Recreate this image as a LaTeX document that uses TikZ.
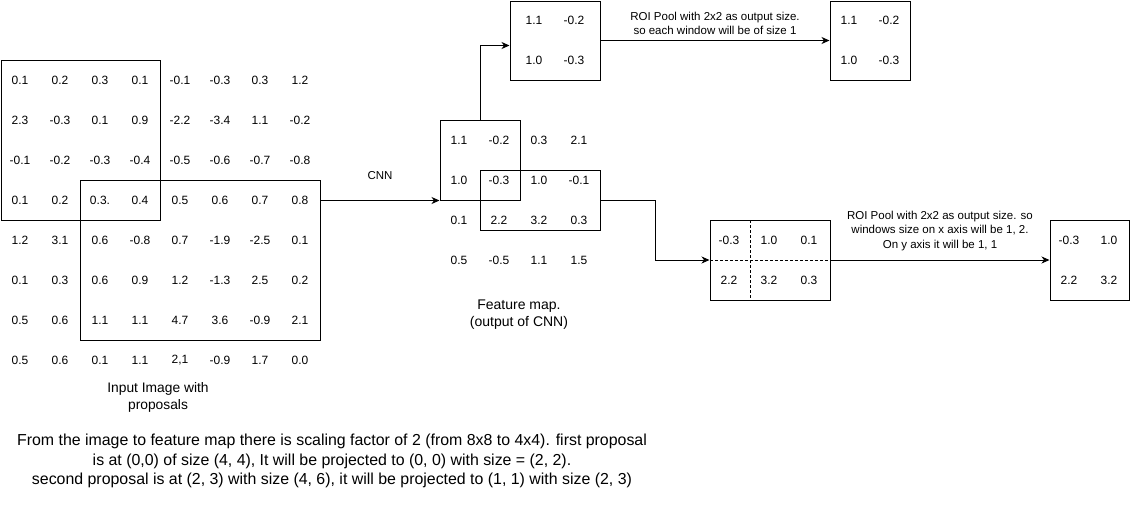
\documentclass[tikz,border=0pt]{standalone}
\usepackage{fontspec}
\setmainfont{Liberation Sans}
\usetikzlibrary{arrows.meta,positioning}
\begin{document}
\begin{tikzpicture}[x=1pt,y=-1pt,
  cell/.style={inner sep=0pt,font=\fontsize{12}{14}\selectfont},
  box/.style={draw,line width=1pt,inner sep=0pt},
  lbl/.style={align=center,inner sep=0pt,font=\fontsize{11.5}{14.5}\selectfont},
  arr/.style={line width=1pt,-{Stealth[length=8pt,width=7pt,inset=2.5pt]}},
  dsh/.style={line width=0.8pt,dash pattern=on 3pt off 2pt}]
\useasboundingbox (0,0) rectangle (1130,531);
% input image
\foreach \row [count=\r] in {
 {0.1,0.2,0.3,0.1,-0.1,-0.3,0.3,1.2},
 {2.3,-0.3,0.1,0.9,-2.2,-3.4,1.1,-0.2},
 {-0.1,-0.2,-0.3,-0.4,-0.5,-0.6,-0.7,-0.8},
 {0.1,0.2,0.3.,0.4,0.5,0.6,0.7,0.8},
 {1.2,3.1,0.6,-0.8,0.7,-1.9,-2.5,0.1},
 {0.1,0.3,0.6,0.9,1.2,-1.3,2.5,0.2},
 {0.5,0.6,1.1,1.1,4.7,3.6,-0.9,2.1},
 {0.5,0.6,0.1,1.1,2{,}1,-0.9,1.7,0.0}}{
  \foreach \v [count=\c] in \row {
    \node[cell] (in-\r-\c) at ({20+40*(\c-1)},{80+40*(\r-1)}) {\v};
  }
}
\node[box,minimum width=159pt,minimum height=160pt] (p1) at (80.5,140) {};
\node[box,minimum width=240pt,minimum height=160pt] (p2) at (200,260) {};
\node[lbl,font=\fontsize{13.8}{17}\selectfont] (inlbl) at (158,397) {Input Image with\\proposals};
% feature map
\foreach \row [count=\r] in {
 {1.1,-0.2,0.3,2.1},
 {1.0,-0.3,1.0,-0.1},
 {0.1,2.2,3.2,0.3},
 {0.5,-0.5,1.1,1.5}}{
  \foreach \v [count=\c] in \row {
    \node[cell] (fm-\r-\c) at ({459+40*(\c-1)},{140+40*(\r-1)}) {\v};
  }
}
\node[box,minimum width=80pt,minimum height=80pt] (fA) at (480,160) {};
\node[box,minimum width=120pt,minimum height=60pt] (fB) at (540,200) {};
\node[lbl,font=\fontsize{14}{17}\selectfont] (fmlbl) at (519,315) {Feature map.\\(output of CNN)};
\draw[arr] (p2.east |- fA.south) -- node[lbl,above=20pt] (cnn) {CNN} (fA.south west);
% first proposal path
\node[box,minimum width=90pt,minimum height=79pt] (t1) at (555,40.5) {};
\node[cell] (t1a) at (534,20) {1.1};
\node[cell] (t1b) at (574,20) {-0.2};
\node[cell] (t1c) at (534,60) {1.0};
\node[cell] (t1d) at (574,60) {-0.3};
\draw[arr] (fA.north) |- ([yshift=-5pt]t1.west);
\node[box,minimum width=80pt,minimum height=79pt] (r1) at (870,40.5) {};
\node[cell] (r1a) at (849,20) {1.1};
\node[cell] (r1b) at (889,20) {-0.2};
\node[cell] (r1c) at (849,60) {1.0};
\node[cell] (r1d) at (889,60) {-0.3};
\draw[arr] (t1.east) -- node[lbl,above=5pt] (roi1) {ROI Pool with 2x2 as output size.\\so each window will be of size 1} (r1.west);
% second proposal path
\node[box,minimum width=120pt,minimum height=80pt] (s2) at (770,260) {};
\draw[dsh] (750,220) -- (750,300);
\draw[dsh] (710,260) -- (830,260);
\node[cell] (s2a) at (729,240) {-0.3};
\node[cell] (s2b) at (769,240) {1.0};
\node[cell] (s2c) at (809,240) {0.1};
\node[cell] (s2d) at (729,280) {2.2};
\node[cell] (s2e) at (769,280) {3.2};
\node[cell] (s2f) at (809,280) {0.3};
\draw[arr] (fB.east) -- ++(55,0) |- (s2.west);
\node[box,minimum width=79pt,minimum height=80pt] (r2) at (1089.5,260) {};
\node[cell] (r2a) at (1069,240) {-0.3};
\node[cell] (r2b) at (1109,240) {1.0};
\node[cell] (r2c) at (1069,280) {2.2};
\node[cell] (r2d) at (1109,280) {3.2};
\draw[arr] (s2.east) -- node[lbl,above=9pt] (roi2) {ROI Pool with 2x2 as output size. so\\windows size on x axis will be 1, 2.\\On y axis it will be 1, 1} (r2.west);
% bottom note
\node[lbl,font=\fontsize{15.9}{19.5}\selectfont] (note) at (332,461) {From the image to feature map there is scaling factor of 2 (from 8x8 to 4x4). first proposal\\is at (0,0) of size (4, 4), It will be projected to (0, 0) with size = (2, 2).\\second proposal is at (2, 3) with size (4, 6), it will be projected to (1, 1) with size (2, 3)};
\end{tikzpicture}
\end{document}
